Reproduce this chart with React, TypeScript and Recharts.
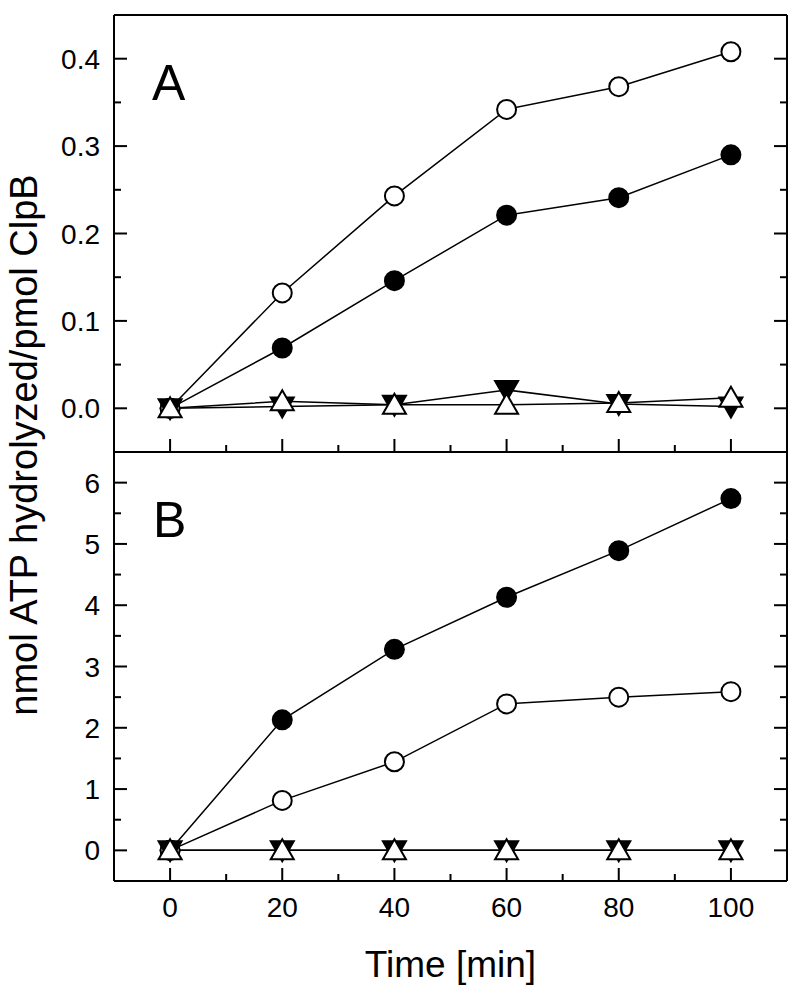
import { LineChart, Line, XAxis, YAxis, Label } from "recharts";

const times = [0, 20, 40, 60, 80, 100];

// panel A: nmol ATP / pmol ClpB
const aOpenCircle = [0, 0.132, 0.243, 0.342, 0.368, 0.408];
const aFilledCircle = [0, 0.069, 0.146, 0.221, 0.241, 0.29];
const aOpenTriangle = [0, 0.008, 0.004, 0.004, 0.006, 0.012];
const aFilledTriangle = [0, 0.002, 0.004, 0.021, 0.005, 0.002];

// panel B
const bFilledCircle = [0, 2.13, 3.28, 4.13, 4.89, 5.74];
const bOpenCircle = [0, 0.815, 1.445, 2.39, 2.5, 2.59];
const bOpenTriangle = [0, 0, 0, 0, 0, 0];
const bFilledTriangle = [0, 0, 0, 0, 0, 0];

const xTicks = [0, 10, 20, 30, 40, 50, 60, 70, 80, 90, 100];
const aTicks = [0, 0.05, 0.1, 0.15, 0.2, 0.25, 0.3, 0.35, 0.4];
const bTicks = [0, 0.5, 1, 1.5, 2, 2.5, 3, 3.5, 4, 4.5, 5, 5.5, 6];

const FONT = "'Liberation Sans', Arial, sans-serif";

const dataA = times.map((t, i) => ({
  t,
  oc: aOpenCircle[i],
  fc: aFilledCircle[i],
  ot: aOpenTriangle[i],
  ft: aFilledTriangle[i],
}));
const dataB = times.map((t, i) => ({
  t,
  oc: bOpenCircle[i],
  fc: bFilledCircle[i],
  ot: bOpenTriangle[i],
  ft: bFilledTriangle[i],
}));

const isMultiple = (v: number, step: number) => Math.abs(v / step - Math.round(v / step)) < 1e-6;

type Side = "left" | "right" | "top" | "bottom";

// ticks point inward; labels only on left / bottom
const makeTick =
  (side: Side, step: number, fmt?: (v: number) => string) =>
  (props: any) => {
    const { x, y, payload } = props;
    const v = payload.value;
    const major = isMultiple(v, step);
    const len = major ? 13 : 7;
    let x2 = x;
    let y2 = y;
    if (side === "left") x2 = x + len;
    else if (side === "right") x2 = x - len;
    else if (side === "top") y2 = y + len;
    else y2 = y - len;
    return (
      <g>
        <line x1={x} y1={y} x2={x2} y2={y2} stroke="#000" strokeWidth={2} />
        {fmt && major && side === "left" && (
          <text x={x - 14} y={y + 10} textAnchor="end" fontSize={28} fontFamily={FONT} fill="#000">
            {fmt(v)}
          </text>
        )}
        {fmt && major && side === "bottom" && (
          <text x={x} y={y + 36} textAnchor="middle" fontSize={28} fontFamily={FONT} fill="#000">
            {fmt(v)}
          </text>
        )}
      </g>
    );
  };

const circleDot = (filled: boolean) => (p: any) => (
  <circle
    key={`c-${p.index}`}
    cx={p.cx}
    cy={p.cy}
    r={9.5}
    fill={filled ? "#000" : "#fff"}
    stroke="#000"
    strokeWidth={2}
  />
);

const triangleDot = (up: boolean) => (p: any) => {
  const { cx, cy } = p;
  const pts = up
    ? `${cx},${cy - 11} ${cx + 11.5},${cy + 9} ${cx - 11.5},${cy + 9}`
    : `${cx},${cy + 11} ${cx + 11.5},${cy - 9} ${cx - 11.5},${cy - 9}`;
  return (
    <polygon
      key={`t-${p.index}`}
      points={pts}
      fill={up ? "#fff" : "#000"}
      stroke="#000"
      strokeWidth={2}
      strokeLinejoin="miter"
    />
  );
};

const axisLine = { stroke: "#000", strokeWidth: 2 };

const series = [
  { key: "fc", dot: circleDot(true) },
  { key: "oc", dot: circleDot(false) },
  { key: "ft", dot: triangleDot(false) },
  { key: "ot", dot: triangleDot(true) },
];

function Lines() {
  return series.map((s) => (
    <Line
      key={s.key}
      xAxisId="b"
      yAxisId="l"
      dataKey={s.key}
      type="linear"
      stroke="#000"
      strokeWidth={1.5}
      dot={s.dot}
      activeDot={false}
      isAnimationActive={false}
    />
  ));
}

const panelLetter = (letter: string, dx: number) => (props: any) => {
  const vb = props.viewBox;
  return (
    <text x={vb.x + dx} y={vb.y + vb.height + 85} fontSize={50} fontFamily={FONT} fill="#000">
      {letter}
    </text>
  );
};

export default function App() {
  return (
    <div style={{ position: "absolute", left: 0, top: 0, width: 800, height: 1000, background: "#fff" }}>
      <div style={{ position: "absolute", left: 0, top: 0 }}>
        <LineChart width={800} height={1000} data={dataA} margin={{ top: 10, right: 3, bottom: 543, left: 54 }}>
          <XAxis
            xAxisId="b"
            dataKey="t"
            type="number"
            domain={[-10, 110]}
            ticks={xTicks}
            allowDataOverflow
            height={5}
            tickSize={0}
            tickMargin={0}
            tickLine={false}
            axisLine={axisLine}
            tick={makeTick("bottom", 20)}
            interval={0}
          />
          <XAxis
            xAxisId="t"
            orientation="top"
            type="number"
            domain={[-10, 110]}
            ticks={xTicks}
            allowDataOverflow
            height={5}
            tickSize={0}
            tickMargin={0}
            tickLine={false}
            axisLine={axisLine}
            tick={makeTick("top", 20)}
            interval={0}
          >
            <Label content={panelLetter("A", 38)} />
          </XAxis>
          <YAxis
            yAxisId="l"
            type="number"
            domain={[-0.05, 0.45]}
            ticks={aTicks}
            allowDataOverflow
            width={60}
            tickSize={0}
            tickMargin={0}
            tickLine={false}
            axisLine={axisLine}
            tick={makeTick("left", 0.1, (v) => v.toFixed(1))}
            interval={0}
          >
            <Label
              content={(props: any) => {
                const vb = props.viewBox;
                const x = vb.x - 17;
                const y = vb.y + vb.height - 7;
                return (
                  <text
                    x={x}
                    y={y}
                    transform={`rotate(-90, ${x}, ${y})`}
                    textAnchor="middle"
                    fontSize={38}
                    fontFamily={FONT}
                    fill="#000"
                  >
                    nmol ATP hydrolyzed/pmol ClpB
                  </text>
                );
              }}
            />
          </YAxis>
          <YAxis
            yAxisId="r"
            orientation="right"
            type="number"
            domain={[-0.05, 0.45]}
            ticks={aTicks}
            allowDataOverflow
            width={10}
            tickSize={0}
            tickMargin={0}
            tickLine={false}
            axisLine={axisLine}
            tick={makeTick("right", 0.1)}
            interval={0}
          />
          {Lines()}
        </LineChart>
      </div>
      <div style={{ position: "absolute", left: 0, top: 0 }}>
        <LineChart width={800} height={1000} data={dataB} margin={{ top: 447, right: 3, bottom: 49, left: 54 }}>
          <XAxis
            xAxisId="b"
            dataKey="t"
            type="number"
            domain={[-10, 110]}
            ticks={xTicks}
            allowDataOverflow
            height={70}
            tickSize={0}
            tickMargin={0}
            tickLine={false}
            axisLine={axisLine}
            tick={makeTick("bottom", 20, (v) => String(v))}
            interval={0}
          >
            <Label
              content={(props: any) => {
                const vb = props.viewBox;
                return (
                  <text
                    x={vb.x + vb.width / 2}
                    y={vb.y + 96}
                    textAnchor="middle"
                    fontSize={37}
                    fontFamily={FONT}
                    fill="#000"
                  >
                    Time [min]
                  </text>
                );
              }}
            />
          </XAxis>
          <XAxis
            xAxisId="t"
            orientation="top"
            type="number"
            domain={[-10, 110]}
            ticks={xTicks}
            allowDataOverflow
            height={5}
            tickSize={0}
            tickMargin={0}
            tickLine={false}
            axisLine={axisLine}
            tick={makeTick("top", 20)}
            interval={0}
          >
            <Label content={panelLetter("B", 39)} />
          </XAxis>
          <YAxis
            yAxisId="l"
            type="number"
            domain={[-0.5, 6.5]}
            ticks={bTicks}
            allowDataOverflow
            width={60}
            tickSize={0}
            tickMargin={0}
            tickLine={false}
            axisLine={axisLine}
            tick={makeTick("left", 1, (v) => String(v))}
            interval={0}
          />
          <YAxis
            yAxisId="r"
            orientation="right"
            type="number"
            domain={[-0.5, 6.5]}
            ticks={bTicks}
            allowDataOverflow
            width={10}
            tickSize={0}
            tickMargin={0}
            tickLine={false}
            axisLine={axisLine}
            tick={makeTick("right", 1)}
            interval={0}
          />
          {Lines()}
        </LineChart>
      </div>
    </div>
  );
}
